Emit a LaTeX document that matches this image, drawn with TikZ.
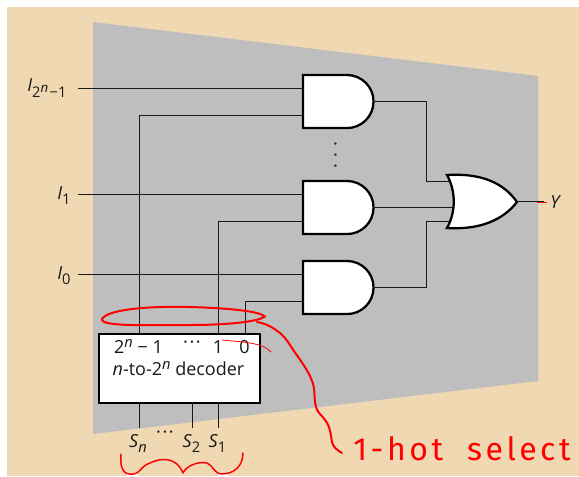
\documentclass[tikz,border=0pt]{standalone}
\usepackage{fontspec}
\setmainfont{Open Sans}
\newfontfamily\handfont[LetterSpace=11,WordSpace=2]{Fira Sans}
\usetikzlibrary{calc}
\definecolor{mytan}{HTML}{EFD8B2}
\definecolor{panel}{HTML}{BEBEBE}
\newcommand{\lowsub}[2][3.75pt]{\raisebox{-#1}{\fontsize{11}{12}\selectfont #2}}
\newcommand{\highsup}[1]{\raisebox{4pt}{\fontsize{11}{12}\selectfont #1}}
\newcommand{\rowdots}[1]{\textperiodcentered\kern#1\textperiodcentered\kern#1\textperiodcentered}
\tikzset{
  x=0.75pt,y=-0.75pt,
  wire/.style={draw=black!90,line width=1pt},
  gate/.style={draw=black,fill=white,line width=1.7pt,line join=miter},
  lab/.style={font=\fontsize{13.5}{15}\selectfont,inner sep=0pt,text=black!90},
  ink/.style={draw=red,line width=1.5pt,line cap=round,line join=round},
  thin ink/.style={draw=red,line width=0.6pt,line cap=round},
}
\newcommand{\andgate}[2]{% top y, name
  \path[gate] (303,#1) -- (347,#1) arc[start angle=90,end angle=-90,radius=19.9pt] -- (303,#1+53) -- cycle;
  \coordinate (#2a) at (303,#1+13.5);
  \coordinate (#2b) at (303,#1+40.5);
  \coordinate (#2o) at (373,#1+26.5);
}
\begin{document}
\begin{tikzpicture}
\useasboundingbox (0,0) rectangle (579,476);
\fill[mytan] (7,7) rectangle (579,476);
\fill[white] (127,473.5) rectangle (138,476);
\fill[white] (218,473.5) rectangle (228,476);
\fill[panel] (93,22) -- (538,76) -- (538,381) -- (93,434) -- cycle;

% pins
\node[lab,anchor=base west] (i2) at (27,91) {\textit{I}\lowsub[5pt]{2\raisebox{4pt}{\fontsize{10}{11}\selectfont\textit{n}}\kern1pt−1}};
\node[lab,anchor=base west] (i1) at (57,199) {\textit{I}\lowsub{1}};
\node[lab,anchor=base west] (i0) at (57,279) {\textit{I}\lowsub{0}};
\node[lab,anchor=base west] (yy) at (550,208) {\textit{Y}};

\coordinate (i2w) at (78,88.5);
\coordinate (i1w) at (78,194.5);
\coordinate (i0w) at (78,274.5);

% decoder
\node[draw=black,fill=white,line width=1.7pt,minimum width=120.5pt,minimum height=51.5pt,inner sep=0pt,anchor=north west] (dec) at (98,333) {};
\node[lab,anchor=base] (d1) at (138.5,353) {2\highsup{\textit{n}} − 1};
\node[lab,anchor=center] (d2) at (192,345) {\rowdots{1.2pt}};
\node[lab,anchor=base] (d3) at (218,353) {1};
\node[lab,anchor=base] (d4) at (244.5,353) {0};
\node[lab,anchor=base] (d5) at (178.5,375) {\textit{n}-to-2\highsup{\textit{n}} decoder};

\coordinate (dA) at (139.5,333);
\coordinate (dB) at (218.5,333);
\coordinate (dC) at (245.5,333);
\coordinate (sA) at (139.5,402);
\coordinate (sB) at (192.5,402);
\coordinate (sC) at (218.5,402);
\coordinate (eA) at (139.5,428);
\coordinate (eB) at (192.5,428);
\coordinate (eC) at (218.5,428);

\node[lab,anchor=base] (s3) at (138,447) {\textit{S}\lowsub{\textit{n}}};
\node[lab,anchor=center] (sd) at (165,435) {\rowdots{1.2pt}};
\node[lab,anchor=base] (s2) at (191.5,447) {\textit{S}\lowsub{2}};
\node[lab,anchor=base] (s1) at (217.5,447) {\textit{S}\lowsub{1}};

% gates
\andgate{75}{ga}
\andgate{181}{gb}
\andgate{261}{gc}

\draw[wire] (i2w) -- (gaa);
\draw[wire] (i1w) -- (gba);
\draw[wire] (i0w) -- (gca);
\draw[wire] (dA) |- (gab);
\draw[wire] (dB) |- (gbb);
\draw[wire] (dC) |- (gcb);
\draw[wire] (sA) -- (eA);
\draw[wire] (sB) -- (eB);
\draw[wire] (sC) -- (eC);

\node[lab,anchor=center,rotate=90] (vd) at (338,155) {\rowdots{4.5pt}};

% or gate
\coordinate (oa) at (454,181.5);
\coordinate (ob) at (455,207.5);
\coordinate (oc) at (454,221.5);
\coordinate (oo) at (517,201.5);
\coordinate (oe) at (544,201.5);
\draw[wire] (gao) -- (426.5,101.5) -- (426.5,181.5) -- (oa);
\draw[wire] (gbo) -- (ob);
\draw[wire] (gco) -- (426.5,287.5) -- (426.5,221.5) -- (oc);
\draw[wire] (oo) -- (oe);
\path[gate] (447,175) .. controls (480,173) and (503,182) .. (517,202)
  .. controls (503,220) and (480,230) .. (447,228)
  .. controls (456,212) and (456,191) .. (447,175) -- cycle;

% red annotation
\draw[ink] (265,317) .. controls (262,311) and (225,308) .. (190,307)
  .. controls (150,306) and (108,309) .. (102,319)
  .. controls (100,327) and (150,325) .. (190,325)
  .. controls (225,325) and (260,322) .. (265,316);
\draw[ink] (257,322) .. controls (270,324) and (283,333) .. (290,345)
  .. controls (298,358) and (311,372) .. (314,388)
  .. controls (315,398) and (314,408) .. (320,414)
  .. controls (330,424) and (330,430) .. (332,442)
  .. controls (333,447) and (337,450) .. (342,453);
\draw[thin ink] (222,340) .. controls (240,342) and (262,342) .. (271,352);
\draw[draw=red,line width=0.7pt] (537,202) -- (547,202);
\draw[ink,line width=1.1pt] (121,454) .. controls (120,465) and (122,473) .. (129,474)
  .. controls (140,476) and (140,466) .. (150,463)
  .. controls (160,458) and (176,456) .. (183,473)
  .. controls (186,466) and (198,461) .. (207,463)
  .. controls (213,465) and (214,474) .. (222,474)
  .. controls (235,474) and (243,465) .. (243,453);
\node[anchor=base west,inner sep=0pt,text=red,font=\handfont\fontsize{24}{26}\selectfont] (hot) at (353,460) {1-hot select};
\end{tikzpicture}
\end{document}
